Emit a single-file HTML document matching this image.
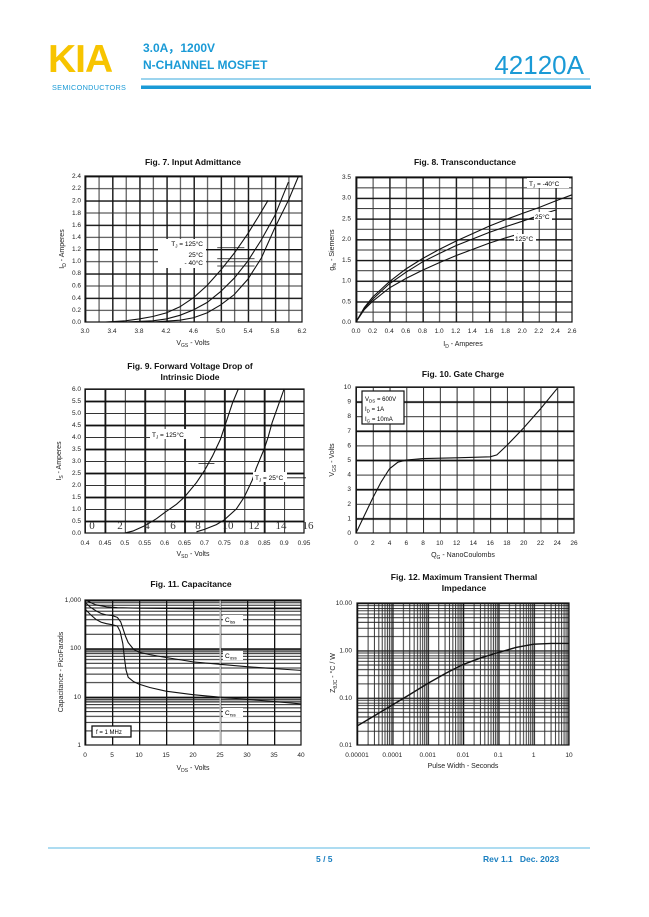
<!DOCTYPE html>
<html><head><meta charset="utf-8"><style>
html,body{margin:0;padding:0;background:#fff;}
svg{display:block;font-family:"Liberation Sans",Arial,sans-serif;}
.t{font-size:6.5px;fill:#222}
.ti{font-size:8.5px;font-weight:bold;fill:#111}
.ax{font-size:7px;fill:#222}
.c{fill:none;stroke:#111;stroke-width:1.1;vector-effect:non-scaling-stroke}
</style></head><body>
<svg width="649" height="917" viewBox="0 0 649 917" xmlns="http://www.w3.org/2000/svg">
<defs>
<pattern id="v7" patternUnits="userSpaceOnUse" x="85" y="0" width="27.125" height="10"><path d="M0.5,0V10" stroke="#111" stroke-width="1.8"/><path d="M14.06,0V10" stroke="#333" stroke-width="1"/></pattern>
<pattern id="h7" patternUnits="userSpaceOnUse" x="0" y="176" width="10" height="24.333"><path d="M0,0.5H10" stroke="#111" stroke-width="1.8"/><path d="M0,12.67H10" stroke="#333" stroke-width="1"/></pattern>
<pattern id="v8" patternUnits="userSpaceOnUse" x="356" y="0" width="33.23" height="10"><path d="M0.5,0V10" stroke="#111" stroke-width="1.8"/><path d="M17.1,0V10" stroke="#333" stroke-width="1"/></pattern>
<pattern id="h8" patternUnits="userSpaceOnUse" x="0" y="177" width="10" height="20.714"><path d="M0,0.5H10" stroke="#111" stroke-width="1.8"/><path d="M0,10.86H10" stroke="#333" stroke-width="1"/></pattern>
<pattern id="v9" patternUnits="userSpaceOnUse" x="85" y="0" width="39.82" height="10"><path d="M0.5,0V10" stroke="#333" stroke-width="1"/><path d="M20.4,0V10" stroke="#111" stroke-width="1.8"/></pattern>
<pattern id="h9" patternUnits="userSpaceOnUse" x="0" y="389" width="10" height="24"><path d="M0,0.5H10" stroke="#333" stroke-width="1"/><path d="M0,12.5H10" stroke="#111" stroke-width="1.8"/></pattern>
<pattern id="v10" patternUnits="userSpaceOnUse" x="356" y="0" width="33.54" height="10"><path d="M0.5,0V10" stroke="#222" stroke-width="1"/><path d="M17.27,0V10" stroke="#333" stroke-width="1"/></pattern>
<pattern id="h10" patternUnits="userSpaceOnUse" x="0" y="387" width="10" height="29.2"><path d="M0,0.5H10" stroke="#333" stroke-width="1"/><path d="M0,15.1H10" stroke="#111" stroke-width="1.8"/></pattern>
<pattern id="v11" patternUnits="userSpaceOnUse" x="85" y="0" width="27" height="10"><path d="M0.5,0V10" stroke="#111" stroke-width="1.6"/></pattern>
<pattern id="h11" patternUnits="userSpaceOnUse" x="0" y="600" width="10" height="48.333"><path d="M0,0.6H10" stroke="#111" stroke-width="1.8"/><path d="M0,2.7H10M0,5.2H10M0,8H10M0,11.2H10M0,15H10M0,19.7H10M0,25.8H10M0,34.3H10" stroke="#222" stroke-width="1"/></pattern>
<pattern id="v12" patternUnits="userSpaceOnUse" x="357" y="0" width="35.333" height="10"><path d="M0.5,0V10" stroke="#111" stroke-width="1.5"/><path d="M11.1,0V10M17.4,0V10M21.8,0V10M25.2,0V10M28,0V10M30.4,0V10M32.4,0V10M34.2,0V10" stroke="#222" stroke-width="0.9"/></pattern>
<pattern id="h12" patternUnits="userSpaceOnUse" x="0" y="603" width="10" height="47.333"><path d="M0,0.5H10" stroke="#111" stroke-width="1.5"/><path d="M0,2.7H10M0,5.5H10M0,7.8H10M0,11H10M0,14.7H10M0,19.3H10M0,25.2H10M0,33.6H10" stroke="#222" stroke-width="0.9"/></pattern>
</defs>

<!-- Header -->
<text x="48" y="72" style="font-size:39px;font-weight:bold;fill:#F7C400;letter-spacing:-1px">KIA</text>
<text x="52" y="90" style="font-size:7.3px;fill:#1A9AD6;letter-spacing:0.3px">SEMICONDUCTORS</text>
<text x="143" y="52" style="font-size:12px;font-weight:bold;fill:#1A9AD6">3.0A，1200V</text>
<text x="143" y="69" style="font-size:12px;font-weight:bold;fill:#1A9AD6">N-CHANNEL MOSFET</text>
<text x="584" y="74" text-anchor="end" style="font-size:26px;fill:#1A9AD6">42120A</text>
<rect x="141" y="78.5" width="449" height="1" fill="#3AA9DE"/>
<rect x="141" y="85.5" width="450" height="3.5" fill="#1A9AD6"/>

<!-- Fig 7 -->
<text x="193" y="165" text-anchor="middle" class="ti">Fig. 7. Input Admittance</text>
<rect x="85" y="176" width="217" height="146" fill="url(#v7)"/>
<rect x="85" y="176" width="217" height="146" fill="url(#h7)"/>
<rect x="85" y="176" width="217" height="146" fill="none" stroke="#111" stroke-width="1.2"/>
<g transform="translate(85,322) scale(67.8125,-60.8333) translate(-3,0)">
<polyline class="c" points="3.3,0 3.6,0.02 3.8,0.05 4.0,0.09 4.2,0.15 4.4,0.25 4.6,0.4 4.8,0.6 5.0,0.85 5.2,1.13 5.4,1.45 5.55,1.72 5.7,2.0"/>
<polyline class="c" points="3.6,0 4.0,0.02 4.2,0.05 4.4,0.11 4.6,0.2 4.8,0.32 5.0,0.5 5.2,0.72 5.4,1.0 5.6,1.35 5.8,1.75 6.0,2.3"/>
<polyline class="c" points="4.0,0 4.4,0.03 4.6,0.07 4.8,0.15 5.0,0.28 5.2,0.45 5.4,0.7 5.6,1.05 5.8,1.55 6.0,2.0 6.15,2.4"/>
<path class="c" d="M4.95,1.22H5.35M4.95,1.04H5.5M4.95,0.92H5.5" style="stroke-width:0.8"/>
</g>
<rect x="158" y="239" width="48" height="29" fill="#fff"/>
<text x="203" y="246" text-anchor="end" style="font-size:6.5px">T<tspan style="font-size:4.5px" dy="1.5">J</tspan><tspan dy="-1.5"> = 125°C</tspan></text>
<text x="203" y="257" text-anchor="end" style="font-size:6.5px">25°C</text>
<text x="203" y="265" text-anchor="end" style="font-size:6.5px">- 40°C</text>
<g class="t" text-anchor="middle">
<text x="85" y="333">3.0</text><text x="112" y="333">3.4</text><text x="139" y="333">3.8</text><text x="166" y="333">4.2</text><text x="193.5" y="333">4.6</text><text x="220.6" y="333">5.0</text><text x="248" y="333">5.4</text><text x="275" y="333">5.8</text><text x="302" y="333">6.2</text>
</g>
<g class="t" text-anchor="end">
<text x="81" y="324">0.0</text><text x="81" y="312">0.2</text><text x="81" y="300">0.4</text><text x="81" y="287.5">0.6</text><text x="81" y="275">0.8</text><text x="81" y="263">1.0</text><text x="81" y="251">1.2</text><text x="81" y="239">1.4</text><text x="81" y="227">1.6</text><text x="81" y="215">1.8</text><text x="81" y="202.5">2.0</text><text x="81" y="190">2.2</text><text x="81" y="178">2.4</text>
</g>
<text x="193" y="345" text-anchor="middle" class="ax">V<tspan style="font-size:5px" dy="2">GS</tspan><tspan dy="-2"> - Volts</tspan></text>
<text transform="translate(64,249) rotate(-90)" text-anchor="middle" class="ax">I<tspan style="font-size:5px" dy="2">D</tspan><tspan dy="-2"> - Amperes</tspan></text>

<!-- Fig 8 -->
<text x="465" y="165" text-anchor="middle" class="ti">Fig. 8. Transconductance</text>
<rect x="356" y="177" width="216" height="145" fill="url(#v8)"/>
<rect x="356" y="177" width="216" height="145" fill="url(#h8)"/>
<rect x="356" y="177" width="216" height="145" fill="none" stroke="#111" stroke-width="1.2"/>
<g transform="translate(356,322) scale(83.077,-41.4286)">
<polyline class="c" points="0,0 0.1,0.35 0.2,0.6 0.4,0.97 0.6,1.28 0.8,1.53 1.0,1.75 1.2,1.95 1.4,2.13 1.6,2.31 1.8,2.47 2.0,2.62 2.2,2.76 2.4,2.92 2.6,3.07"/>
<polyline class="c" points="0,0 0.1,0.33 0.2,0.55 0.4,0.92 0.6,1.2 0.8,1.45 1.0,1.65 1.2,1.84 1.4,2.0 1.6,2.16 1.8,2.3 2.0,2.43 2.2,2.57 2.4,2.7"/>
<polyline class="c" points="0,0 0.1,0.3 0.2,0.5 0.4,0.82 0.6,1.05 0.8,1.25 1.0,1.43 1.2,1.6 1.4,1.75 1.6,1.9 1.8,2.03 1.95,2.12"/>
</g>
<rect x="527" y="178" width="42" height="10" fill="#fff"/>
<text x="529" y="186" style="font-size:6.5px">T<tspan style="font-size:4.5px" dy="1.5">J</tspan><tspan dy="-1.5"> =   -40°C</tspan></text>
<rect x="534" y="212" width="18" height="8" fill="#fff"/>
<text x="535" y="219" style="font-size:6.5px">25°C</text>
<rect x="514" y="234" width="22" height="8" fill="#fff"/>
<text x="515" y="241" style="font-size:6.5px">125°C</text>
<g class="t" text-anchor="middle">
<text x="356" y="333">0.0</text><text x="372.6" y="333">0.2</text><text x="389.2" y="333">0.4</text><text x="405.8" y="333">0.6</text><text x="422.5" y="333">0.8</text><text x="439.1" y="333">1.0</text><text x="455.7" y="333">1.2</text><text x="472.3" y="333">1.4</text><text x="488.9" y="333">1.6</text><text x="505.5" y="333">1.8</text><text x="522.2" y="333">2.0</text><text x="538.8" y="333">2.2</text><text x="555.4" y="333">2.4</text><text x="572" y="333">2.6</text>
</g>
<g class="t" text-anchor="end">
<text x="351" y="324">0.0</text><text x="351" y="303.3">0.5</text><text x="351" y="282.6">1.0</text><text x="351" y="261.9">1.5</text><text x="351" y="241.2">2.0</text><text x="351" y="220.4">2.5</text><text x="351" y="199.7">3.0</text><text x="351" y="179">3.5</text>
</g>
<text x="463" y="346" text-anchor="middle" class="ax">I<tspan style="font-size:5px" dy="2">D</tspan><tspan dy="-2"> - Amperes</tspan></text>
<text transform="translate(334,250) rotate(-90)" text-anchor="middle" class="ax">g<tspan style="font-size:5px" dy="2">fs</tspan><tspan dy="-2"> - Siemens</tspan></text>

<!-- Fig 9 -->
<text x="190" y="369" text-anchor="middle" class="ti">Fig. 9. Forward Voltage Drop of</text>
<text x="190" y="380" text-anchor="middle" class="ti">Intrinsic Diode</text>
<rect x="85" y="389" width="219" height="144" fill="url(#v9)"/>
<rect x="85" y="389" width="219" height="144" fill="url(#h9)"/>
<rect x="85" y="389" width="219" height="144" fill="none" stroke="#111" stroke-width="1.2"/>
<g transform="translate(85,533) scale(398.18,-24) translate(-0.4,0)">
<polyline class="c" points="0.5,0 0.52,0.08 0.55,0.3 0.58,0.6 0.6,0.85 0.63,1.2 0.65,1.5 0.68,2.1 0.7,2.6 0.72,3.2 0.74,3.9 0.75,4.4 0.76,4.9 0.77,5.4 0.785,6"/>
<polyline class="c" points="0.68,0.05 0.7,0.15 0.73,0.35 0.75,0.55 0.78,1.0 0.8,1.5 0.82,2.2 0.83,2.7 0.84,3.1 0.85,3.5 0.86,4.0 0.87,4.6 0.885,5.3 0.9,6"/>
<path class="c" d="M0.685,2.9H0.725M0.887,2.3H0.955" style="stroke-width:0.8"/>
</g>
<rect x="150" y="429" width="50" height="10" fill="#fff"/>
<text x="152" y="437" style="font-size:6.5px">T<tspan style="font-size:4.5px" dy="1.5">J</tspan><tspan dy="-1.5"> = 125°C</tspan></text>
<rect x="253" y="472" width="34" height="10" fill="#fff"/>
<text x="255" y="480" style="font-size:6.5px">T<tspan style="font-size:4.5px" dy="1.5">J</tspan><tspan dy="-1.5"> = 25°C</tspan></text>
<g style="font-family:'Liberation Serif',serif;font-size:11px;fill:#333" text-anchor="middle">
<text x="92" y="529">0</text><text x="120" y="529">2</text><text x="147" y="529">4</text><text x="173" y="529">6</text><text x="198" y="529">8</text><text x="228" y="529">10</text><text x="254" y="529">12</text><text x="281" y="529">14</text><text x="308" y="529">16</text>
</g>
<g class="t" text-anchor="middle">
<text x="85" y="545">0.4</text><text x="105" y="545">0.45</text><text x="124.8" y="545">0.5</text><text x="144.7" y="545">0.55</text><text x="164.6" y="545">0.6</text><text x="184.5" y="545">0.65</text><text x="204.5" y="545">0.7</text><text x="224.4" y="545">0.75</text><text x="244.3" y="545">0.8</text><text x="264.2" y="545">0.85</text><text x="284.1" y="545">0.9</text><text x="304" y="545">0.95</text>
</g>
<g class="t" text-anchor="end">
<text x="81" y="535">0.0</text><text x="81" y="523">0.5</text><text x="81" y="511">1.0</text><text x="81" y="499">1.5</text><text x="81" y="487">2.0</text><text x="81" y="475">2.5</text><text x="81" y="463">3.0</text><text x="81" y="451">3.5</text><text x="81" y="439">4.0</text><text x="81" y="427">4.5</text><text x="81" y="415">5.0</text><text x="81" y="403">5.5</text><text x="81" y="391">6.0</text>
</g>
<text x="193" y="556" text-anchor="middle" class="ax">V<tspan style="font-size:5px" dy="2">SD</tspan><tspan dy="-2"> - Volts</tspan></text>
<text transform="translate(61,461) rotate(-90)" text-anchor="middle" class="ax">I<tspan style="font-size:5px" dy="2">S</tspan><tspan dy="-2"> - Amperes</tspan></text>

<!-- Fig 10 -->
<text x="463" y="377" text-anchor="middle" class="ti">Fig. 10. Gate Charge</text>
<rect x="356" y="387" width="218" height="146" fill="url(#v10)"/>
<rect x="356" y="387" width="218" height="146" fill="url(#h10)"/>
<rect x="356" y="387" width="218" height="146" fill="none" stroke="#111" stroke-width="1.2"/>
<g transform="translate(356,533) scale(8.3846,-14.6)">
<polyline class="c" points="0,0 1,1.2 2,2.4 3,3.5 4,4.4 5,4.85 6,5.0 8,5.1 12,5.15 16,5.22 16.8,5.35 18,6 20,7.2 22,8.5 24,9.9"/>
</g>
<rect x="362" y="391" width="42" height="33" fill="#fff" stroke="#111" stroke-width="1.2"/>
<text x="365" y="401" style="font-size:6px">V<tspan style="font-size:4.5px" dy="1.5">DS</tspan><tspan dy="-1.5"> = 600V</tspan></text>
<text x="365" y="411" style="font-size:6px">I<tspan style="font-size:4.5px" dy="1.5">D</tspan><tspan dy="-1.5"> = 1A</tspan></text>
<text x="365" y="421" style="font-size:6px">I<tspan style="font-size:4.5px" dy="1.5">G</tspan><tspan dy="-1.5"> = 10mA</tspan></text>
<g class="t" text-anchor="middle">
<text x="356" y="545">0</text><text x="372.8" y="545">2</text><text x="389.5" y="545">4</text><text x="406.3" y="545">6</text><text x="423.1" y="545">8</text><text x="439.8" y="545">10</text><text x="456.6" y="545">12</text><text x="473.4" y="545">14</text><text x="490.2" y="545">16</text><text x="506.9" y="545">18</text><text x="523.7" y="545">20</text><text x="540.5" y="545">22</text><text x="557.2" y="545">24</text><text x="574" y="545">26</text>
</g>
<g class="t" text-anchor="end">
<text x="351" y="535">0</text><text x="351" y="520.4">1</text><text x="351" y="505.8">2</text><text x="351" y="491.2">3</text><text x="351" y="476.6">4</text><text x="351" y="462">5</text><text x="351" y="447.4">6</text><text x="351" y="432.8">7</text><text x="351" y="418.2">8</text><text x="351" y="403.6">9</text><text x="351" y="389">10</text>
</g>
<text x="463" y="557" text-anchor="middle" class="ax">Q<tspan style="font-size:5px" dy="2">G</tspan><tspan dy="-2"> - NanoCoulombs</tspan></text>
<text transform="translate(334,460) rotate(-90)" text-anchor="middle" class="ax">V<tspan style="font-size:5px" dy="2">GS</tspan><tspan dy="-2"> - Volts</tspan></text>

<!-- Fig 11 -->
<text x="191" y="587" text-anchor="middle" class="ti">Fig. 11. Capacitance</text>
<rect x="85" y="648" width="216" height="6" fill="#bbb"/>
<rect x="85" y="696.7" width="216" height="6" fill="#bbb"/>
<rect x="85" y="600" width="216" height="145" fill="url(#h11)"/>
<rect x="85" y="600" width="216" height="145" fill="url(#v11)"/>
<rect x="219.5" y="600" width="1.5" height="145" fill="#bbb"/>
<rect x="85" y="600" width="216" height="145" fill="none" stroke="#111" stroke-width="1.2"/>
<g transform="translate(85,745) scale(5.4,-48.333)">
<polyline class="c" points="0,3 2,2.9 4,2.86 6,2.84 10,2.83 20,2.82 40,2.82"/>
<polyline class="c" points="0,2.954 1,2.85 2,2.778 3,2.72 4,2.69 5,2.68 6,2.64 6.6,2.55 7,2.42 7.5,2.25 8,2.12 9,1.98 10,1.92 12,1.87 15,1.81 20,1.72 25,1.67 30,1.62 35,1.58 40,1.544"/>
<polyline class="c" points="0,2.813 1,2.7 2,2.6 3,2.54 4,2.51 5,2.49 6,2.46 6.5,2.35 7,2.1 7.3,1.8 7.6,1.55 8,1.4 9,1.31 10,1.26 12,1.19 15,1.114 20,1.041 25,0.99 30,0.944 35,0.9 40,0.85"/>
</g>
<rect x="223" y="615" width="20" height="9" fill="#fff"/>
<text x="225" y="622" style="font-size:6.5px">C<tspan style="font-size:4.5px" dy="1.5">iss</tspan></text>
<rect x="223" y="651" width="20" height="9" fill="#fff"/>
<text x="225" y="658" style="font-size:6.5px">C<tspan style="font-size:4.5px" dy="1.5">oss</tspan></text>
<rect x="223" y="708" width="20" height="9" fill="#fff"/>
<text x="225" y="715" style="font-size:6.5px">C<tspan style="font-size:4.5px" dy="1.5">rss</tspan></text>
<rect x="92" y="726" width="39" height="11" fill="#fff" stroke="#111" stroke-width="1.3"/>
<text x="96" y="734" style="font-size:6px">f = 1 MHz</text>
<g class="t" text-anchor="middle">
<text x="85" y="757">0</text><text x="112" y="757">5</text><text x="139" y="757">10</text><text x="166" y="757">15</text><text x="193" y="757">20</text><text x="220" y="757">25</text><text x="247" y="757">30</text><text x="274" y="757">35</text><text x="301" y="757">40</text>
</g>
<g class="t" text-anchor="end">
<text x="81" y="747">1</text><text x="81" y="699">10</text><text x="81" y="650">100</text><text x="81" y="602">1,000</text>
</g>
<text x="193" y="770" text-anchor="middle" class="ax">V<tspan style="font-size:5px" dy="2">DS</tspan><tspan dy="-2"> - Volts</tspan></text>
<text transform="translate(63,672) rotate(-90)" text-anchor="middle" class="ax">Capacitance - PicoFarads</text>

<!-- Fig 12 -->
<text x="464" y="580" text-anchor="middle" class="ti">Fig. 12. Maximum Transient Thermal</text>
<text x="464" y="591" text-anchor="middle" class="ti">Impedance</text>
<rect x="357" y="603" width="212" height="142" fill="url(#h12)"/>
<rect x="357" y="603" width="212" height="142" fill="url(#v12)"/>
<rect x="357" y="603" width="212" height="142" fill="none" stroke="#111" stroke-width="1.2"/>
<g transform="translate(357,745) scale(35.333,-47.333) translate(5,2)">
<polyline class="c" style="stroke-width:1.4" points="-5,-1.6 -4.5,-1.38 -4,-1.155 -3.5,-0.93 -3,-0.7 -2.5,-0.49 -2,-0.3 -1.5,-0.16 -1,-0.046 -0.5,0.06 0,0.13 0.5,0.146 1,0.146"/>
</g>
<g class="t" text-anchor="middle">
<text x="357" y="757">0.00001</text><text x="392.3" y="757">0.0001</text><text x="427.7" y="757">0.001</text><text x="463" y="757">0.01</text><text x="498.3" y="757">0.1</text><text x="533.7" y="757">1</text><text x="569" y="757">10</text>
</g>
<g class="t" text-anchor="end">
<text x="352" y="747">0.01</text><text x="352" y="700">0.10</text><text x="352" y="652.5">1.00</text><text x="352" y="605">10.00</text>
</g>
<text x="463" y="768" text-anchor="middle" class="ax">Pulse Width - Seconds</text>
<text transform="translate(335,673) rotate(-90)" text-anchor="middle" class="ax">Z<tspan style="font-size:5px" dy="2">θJC</tspan><tspan dy="-2"> - °C / W</tspan></text>

<!-- Footer -->
<rect x="48" y="847.5" width="542" height="1" fill="#5BB8E3"/>
<text x="316" y="862" style="font-size:8.5px;font-weight:bold;fill:#1A7FC0">5 / 5</text>
<text x="483" y="862" style="font-size:8.5px;font-weight:bold;fill:#1A7FC0" xml:space="preserve">Rev 1.1   Dec. 2023</text>
</svg>
</body></html>
